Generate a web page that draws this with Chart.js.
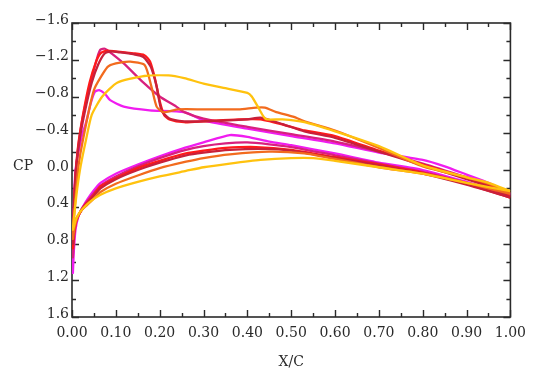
<!DOCTYPE html>
<html><head><meta charset="utf-8">
<script src="https://cdn.jsdelivr.net/npm/chart.js@4/dist/chart.umd.min.js"></script>
<style>html,body{margin:0;padding:0;background:#fff;}</style>
</head><body>
<canvas id="c" width="534" height="369"></canvas>
<script>
// ---- data: each loop runs trailing edge (upper) -> leading edge -> trailing edge (lower)
const xMagenta  = [1.00,0.95,0.90,0.85,0.80,0.70,0.60,0.50,0.40,0.30,0.256,0.177,0.118,0.087,0.075,0.062,0.052,0.043,0.031,0.024,0.015,0.008,0.005,0.003,0.002,0.004,0.008,0.015,0.025,0.035,0.05,0.065,0.10,0.15,0.20,0.25,0.30,0.36,0.40,0.45,0.50,0.60,0.70,0.80,0.90,1.00];
const cpMagenta = [0.26,0.14,0.05,-0.04,-0.11,-0.19,-0.29,-0.37,-0.45,-0.54,-0.63,-0.65,-0.69,-0.76,-0.83,-0.87,-0.85,-0.73,-0.50,-0.40,-0.20,0.00,0.30,0.70,1.12,0.90,0.65,0.50,0.40,0.32,0.22,0.14,0.04,-0.06,-0.15,-0.23,-0.30,-0.38,-0.36,-0.31,-0.27,-0.18,-0.08,0.00,0.13,0.27];

const xPink  = [1.00,0.95,0.90,0.80,0.70,0.60,0.50,0.40,0.30,0.256,0.238,0.20,0.163,0.118,0.09,0.075,0.065,0.058,0.045,0.03,0.02,0.013,0.008,0.004,0.002,0.005,0.01,0.02,0.03,0.05,0.065,0.10,0.15,0.20,0.26,0.30,0.35,0.40,0.45,0.50,0.60,0.70,0.80,0.90,1.00];
const cpPink = [0.27,0.16,0.08,-0.07,-0.20,-0.31,-0.39,-0.47,-0.56,-0.63,-0.69,-0.80,-0.95,-1.16,-1.27,-1.32,-1.31,-1.23,-1.00,-0.70,-0.45,-0.20,0.05,0.40,0.95,0.72,0.56,0.44,0.37,0.25,0.17,0.07,-0.04,-0.13,-0.22,-0.26,-0.29,-0.30,-0.28,-0.25,-0.16,-0.07,0.02,0.14,0.28];

const xRed  = [1.00,0.95,0.90,0.80,0.70,0.60,0.53,0.50,0.43,0.38,0.30,0.256,0.222,0.21,0.20,0.19,0.178,0.165,0.14,0.10,0.08,0.065,0.055,0.04,0.025,0.015,0.009,0.005,0.002,0.005,0.01,0.02,0.03,0.05,0.065,0.10,0.15,0.20,0.26,0.30,0.35,0.42,0.50,0.60,0.70,0.80,0.90,1.00];
const cpRed = [0.29,0.17,0.09,-0.06,-0.21,-0.37,-0.43,-0.47,-0.55,-0.55,-0.53,-0.52,-0.55,-0.60,-0.75,-0.98,-1.18,-1.25,-1.27,-1.29,-1.30,-1.27,-1.18,-0.95,-0.60,-0.30,0.00,0.35,0.85,0.68,0.55,0.45,0.38,0.27,0.18,0.09,-0.02,-0.10,-0.18,-0.21,-0.24,-0.25,-0.22,-0.14,-0.06,0.03,0.15,0.30];

const xCrimson  = [1.00,0.95,0.90,0.80,0.70,0.60,0.53,0.48,0.43,0.40,0.30,0.256,0.222,0.204,0.193,0.18,0.163,0.14,0.11,0.088,0.075,0.06,0.045,0.03,0.018,0.01,0.005,0.002,0.005,0.01,0.02,0.03,0.05,0.065,0.10,0.15,0.20,0.26,0.30,0.36,0.44,0.50,0.60,0.70,0.80,0.90,1.00];
const cpCrimson = [0.30,0.18,0.10,-0.05,-0.20,-0.35,-0.42,-0.50,-0.57,-0.55,-0.53,-0.53,-0.56,-0.65,-0.91,-1.12,-1.23,-1.26,-1.28,-1.29,-1.27,-1.15,-0.95,-0.65,-0.35,-0.05,0.35,0.80,0.65,0.53,0.45,0.39,0.28,0.20,0.10,0.00,-0.08,-0.16,-0.19,-0.22,-0.23,-0.21,-0.13,-0.05,0.04,0.16,0.30];

const xOrange  = [1.00,0.95,0.90,0.80,0.70,0.60,0.534,0.504,0.466,0.44,0.42,0.38,0.30,0.242,0.208,0.193,0.181,0.166,0.133,0.10,0.081,0.05,0.025,0.015,0.009,0.004,0.002,0.006,0.012,0.02,0.03,0.05,0.065,0.10,0.15,0.20,0.26,0.30,0.36,0.45,0.53,0.60,0.70,0.80,0.90,1.00];
const cpOrange = [0.25,0.15,0.08,-0.04,-0.24,-0.43,-0.525,-0.58,-0.63,-0.68,-0.68,-0.66,-0.66,-0.66,-0.63,-0.69,-0.91,-1.14,-1.18,-1.16,-1.12,-0.87,-0.33,-0.05,0.25,0.55,0.75,0.62,0.52,0.45,0.40,0.31,0.24,0.15,0.06,-0.02,-0.09,-0.13,-0.17,-0.20,-0.18,-0.12,-0.03,0.04,0.14,0.26];

const xGold  = [1.00,0.95,0.90,0.80,0.70,0.60,0.53,0.48,0.445,0.437,0.425,0.41,0.40,0.35,0.30,0.256,0.22,0.16,0.103,0.069,0.045,0.032,0.02,0.012,0.006,0.002,0.008,0.015,0.025,0.04,0.065,0.10,0.15,0.20,0.26,0.30,0.36,0.43,0.50,0.55,0.60,0.70,0.80,0.90,1.00];
const cpGold = [0.23,0.14,0.08,-0.05,-0.26,-0.42,-0.52,-0.55,-0.55,-0.58,-0.68,-0.80,-0.84,-0.89,-0.94,-1.00,-1.03,-1.02,-0.95,-0.80,-0.60,-0.33,-0.05,0.20,0.45,0.65,0.55,0.48,0.42,0.35,0.27,0.20,0.13,0.07,0.01,-0.03,-0.07,-0.11,-0.13,-0.13,-0.10,-0.03,0.04,0.14,0.23];

const xTickLabels = ['0.00','0.10','0.20','0.30','0.40','0.50','0.60','0.70','0.80','0.90','1.00'];
const yTickLabels = ['\u22121.6','\u22121.2','\u22120.8','\u22120.4','0.0','0.4','0.8','1.2','1.6'];

function pts(xs, ys){ return xs.map((x,i)=>({x:x, y:ys[i]})); }

const series = [
  {name:'gold',    xs:xGold,    ys:cpGold,    color:'#ffc20e'},
  {name:'orange',  xs:xOrange,  ys:cpOrange,  color:'#f26b1e'},
  {name:'crimson', xs:xCrimson, ys:cpCrimson, color:'#c8203a'},
  {name:'red',     xs:xRed,     ys:cpRed,     color:'#ff1a1a'},
  {name:'pink',    xs:xPink,    ys:cpPink,    color:'#d8207e'},
  {name:'magenta', xs:xMagenta, ys:cpMagenta, color:'#f01cf0'}
];

const FONT = {family:'DejaVu Serif', size:14};
const INK = '#2a2a2a';

const frameTicks = {
  id:'frameTicks',
  beforeDatasetsDraw(chart){
    const {ctx, chartArea:a} = chart;
    ctx.save();
    ctx.strokeStyle = INK; ctx.lineWidth = 1.6;
    ctx.strokeRect(a.left, a.top, a.right-a.left, a.bottom-a.top);
    const xs = chart.scales.x, ys = chart.scales.y;
    ctx.lineWidth = 1.4;
    ctx.beginPath();
    xs.ticks.forEach(t=>{
      const p = Math.round(xs.getPixelForValue(t.value))+0.5;
      const len = t.label ? 7 : 4;
      ctx.moveTo(p, a.bottom); ctx.lineTo(p, a.bottom-len);
      ctx.moveTo(p, a.top); ctx.lineTo(p, a.top+len);
    });
    ys.ticks.forEach(t=>{
      const p = Math.round(ys.getPixelForValue(t.value))+0.5;
      const len = t.label ? 7 : 4;
      ctx.moveTo(a.left, p); ctx.lineTo(a.left+len, p);
      ctx.moveTo(a.right, p); ctx.lineTo(a.right-len, p);
    });
    ctx.stroke();
    ctx.fillStyle = INK;
    ctx.font = '14px "DejaVu Serif"';
    ctx.textAlign = 'center'; ctx.textBaseline = 'middle';
    ctx.fillText('CP', 23, ys.getPixelForValue(0) - 4);
    ctx.restore();
  }
};

new Chart(document.getElementById('c'), {
  type:'scatter',
  data:{ datasets: series.map(s=>({
    label:s.name, data:pts(s.xs, s.ys), showLine:true,
    borderColor:s.color, backgroundColor:s.color, borderWidth:2.3,
    pointRadius:0, tension:0.2, fill:false
  }))},
  options:{
    responsive:false, animation:false, devicePixelRatio:1,
    layout:{padding:{top:23, right:16, left:0, bottom:0}},
    plugins:{legend:{display:false}, tooltip:{enabled:false}},
    scales:{
      x:{type:'linear', min:0, max:1, position:'bottom',
         grid:{display:false, drawTicks:false}, border:{display:false},
         ticks:{stepSize:0.05, autoSkip:false, maxRotation:0, padding:8, font:FONT, color:INK,
           callback:(v)=>{ const k=Math.round(v*100); return k%10===0 ? xTickLabels[k/10] : ''; }},
         title:{display:true, text:'X/C', font:FONT, color:INK, padding:{top:0,bottom:-2}},
         afterFit:(s)=>{ s.height = 52; }},
      y:{type:'linear', min:-1.6, max:1.6, reverse:true,
         grid:{display:false, drawTicks:false}, border:{display:false},
         ticks:{stepSize:0.2, autoSkip:false, padding:3, labelOffset:-3, font:FONT, color:INK,
           callback:(v)=>{ const k=Math.round(v*10); return k%4===0 ? yTickLabels[(k+16)/4] : ''; }},
         afterFit:(s)=>{ s.width = 72; }}
    }
  },
  plugins:[frameTicks]
});
</script>
</body></html>
